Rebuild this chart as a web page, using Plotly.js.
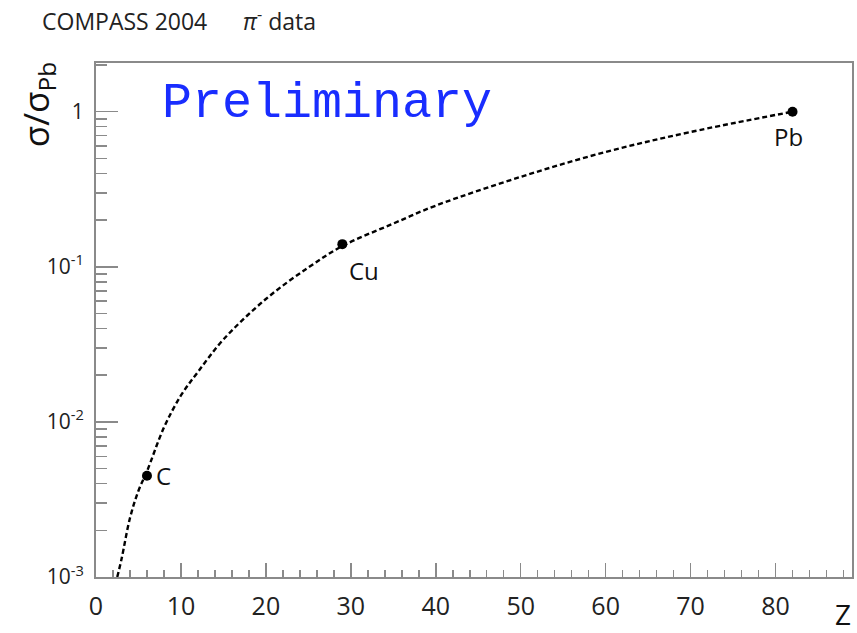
<!DOCTYPE html>
<html><head><meta charset="utf-8">
<script src="https://cdn.plot.ly/plotly-3.0.1.min.js"></script>
<style>html,body{margin:0;padding:0;background:#fff;}#chart{width:857px;height:633px;}</style>
</head><body><div id="chart"></div>
<script>
// Measured points
var targets = ['C', 'Cu', 'Pb'];
var targetZ = [6, 29, 82];
var targetRatio = [0.0045, 0.14, 1.0];

// Dashed curve, values
var curveZ = [2.5, 3, 4, 5, 6, 8, 10, 12, 15, 20, 25, 29, 35, 40, 50, 60, 70, 82];
var curveRatio = [0.001, 0.0013, 0.0024, 0.0036, 0.0048, 0.0092, 0.0148, 0.021, 0.034, 0.062, 0.099, 0.136, 0.19, 0.248, 0.38, 0.55, 0.74, 1.0];

// Tick labels
var yTickVals = [0.001, 0.01, 0.1, 1];
var yTickText = ['10<sup>-3</sup>', '10<sup>-2</sup>', '10<sup>-1</sup>', '1'];

var FONT = 'Open Sans, Noto Sans, sans-serif';
var axisGray = '#8a8a8a';

var traces = [
  {x: curveZ, y: curveRatio, type: 'scatter', mode: 'lines',
   line: {color: '#000', width: 2.4, dash: '5px,3px', shape: 'spline', smoothing: 1}, hoverinfo: 'skip'},
  {x: targetZ, y: targetRatio, type: 'scatter', mode: 'markers',
   marker: {color: '#000', size: 10}}
];

var labelShift = {C: [7, 0], Cu: [5, -26], Pb: [-21, -25]};
var annotations = targets.map(function (t, i) {
  return {x: targetZ[i], y: Math.log10(targetRatio[i]), xref: 'x', yref: 'y',
    text: t, showarrow: false, xanchor: 'left', yanchor: 'middle',
    xshift: labelShift[t][0], yshift: labelShift[t][1],
    font: {family: FONT, size: 24, color: '#111'}};
});
annotations.push(
  {xref: 'paper', yref: 'paper', x: -0.0735, y: 1.0837, xanchor: 'left', yanchor: 'middle',
   text: 'COMPASS 2004&nbsp;&nbsp;&nbsp;&nbsp;&nbsp;&nbsp;<i>π</i><sup>-</sup> data', showarrow: false,
   font: {family: FONT, size: 23, color: '#222'}},
  {xref: 'paper', yref: 'paper', x: 0.0847, y: 0.922, xanchor: 'left', yanchor: 'middle',
   text: 'Preliminary', showarrow: false,
   font: {family: 'Liberation Mono, DejaVu Sans Mono, monospace', size: 50, color: 'rgb(25,45,255)'}},
  {xref: 'paper', yref: 'paper', x: -0.078, y: 0.918, xanchor: 'center', yanchor: 'middle',
   text: 'σ/σ<sub>Pb</sub>', textangle: -90, showarrow: false,
   font: {family: FONT, size: 35, color: '#111'}},
  {xref: 'paper', yref: 'paper', x: 0.988, y: -0.072, xanchor: 'center', yanchor: 'middle',
   text: 'Z', showarrow: false,
   font: {family: FONT, size: 28, color: '#111'}}
);

var layout = {
  width: 857, height: 633,
  margin: {l: 96, r: 5, t: 63, b: 56},
  paper_bgcolor: '#fff', plot_bgcolor: '#fff',
  showlegend: false,
  xaxis: {range: [0, 89], dtick: 10, tick0: 0, ticks: 'inside', ticklen: 14, tickwidth: 1.5,
    tickcolor: axisGray, showgrid: false, zeroline: false, showline: true, linecolor: axisGray,
    linewidth: 2, mirror: true, ticklabelstandoff: 6,
    tickfont: {family: FONT, size: 25, color: '#222'},
    minor: {dtick: 2, ticks: 'inside', ticklen: 7, tickcolor: axisGray, tickwidth: 1.5, showgrid: false}},
  yaxis: {type: 'log', range: [-3, 0.314], tickvals: yTickVals, ticktext: yTickText,
    ticks: 'inside', ticklen: 22, tickwidth: 1.5, tickcolor: axisGray, showgrid: false,
    zeroline: false, showline: true, linecolor: axisGray, linewidth: 2, mirror: true,
    ticklabelstandoff: 6,
    tickfont: {family: FONT, size: 21, color: '#222'},
    minor: {dtick: 'D1', ticks: 'inside', ticklen: 11, tickcolor: axisGray, tickwidth: 1.5, showgrid: false}},
  annotations: annotations
};

Plotly.newPlot('chart', traces, layout, {displayModeBar: false, staticPlot: true});
</script></body></html>
